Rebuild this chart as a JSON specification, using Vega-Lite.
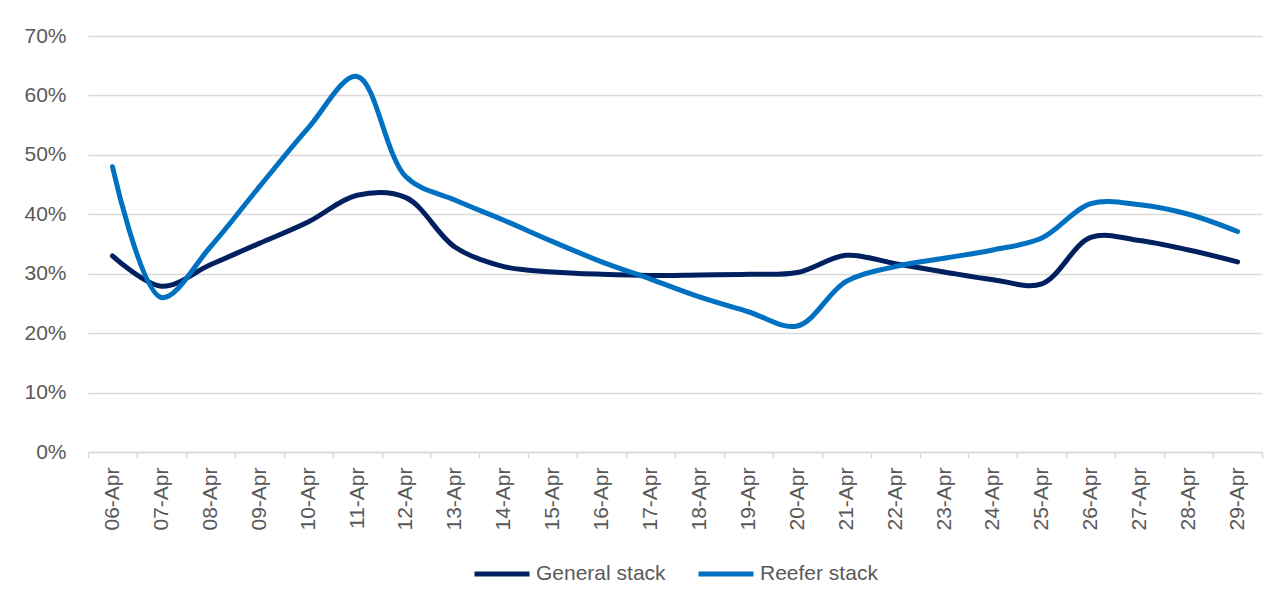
{
  "$schema": "https://vega.github.io/schema/vega-lite/v6.json",
  "autosize": {"type": "none"},
  "padding": {"left": 88, "top": 36, "right": 25, "bottom": 156},
  "width": 1174,
  "height": 416,
  "background": "#ffffff",
  "config": {
    "view": {"stroke": null},
    "font": "Liberation Sans",
    "axis": {
      "labelFont": "Liberation Sans",
      "labelFontSize": 21,
      "labelColor": "#595959",
      "gridColor": "#D9D9D9",
      "gridWidth": 1.5,
      "domainColor": "#D9D9D9",
      "domainWidth": 1.5,
      "tickColor": "#D9D9D9",
      "tickWidth": 1.5,
      "title": null
    },
    "legend": {
      "labelFont": "Liberation Sans",
      "labelFontSize": 21,
      "labelColor": "#595959",
      "layout": {"bottom": {"anchor": "middle"}}
    }
  },
  "data": {
    "values": [
      {"date": "06-Apr", "series": "General stack", "share": 0.330},
      {"date": "07-Apr", "series": "General stack", "share": 0.279},
      {"date": "08-Apr", "series": "General stack", "share": 0.315},
      {"date": "09-Apr", "series": "General stack", "share": 0.351},
      {"date": "10-Apr", "series": "General stack", "share": 0.387},
      {"date": "11-Apr", "series": "General stack", "share": 0.432},
      {"date": "12-Apr", "series": "General stack", "share": 0.428},
      {"date": "13-Apr", "series": "General stack", "share": 0.345},
      {"date": "14-Apr", "series": "General stack", "share": 0.312},
      {"date": "15-Apr", "series": "General stack", "share": 0.303},
      {"date": "16-Apr", "series": "General stack", "share": 0.299},
      {"date": "17-Apr", "series": "General stack", "share": 0.297},
      {"date": "18-Apr", "series": "General stack", "share": 0.298},
      {"date": "19-Apr", "series": "General stack", "share": 0.299},
      {"date": "20-Apr", "series": "General stack", "share": 0.302},
      {"date": "21-Apr", "series": "General stack", "share": 0.331},
      {"date": "22-Apr", "series": "General stack", "share": 0.317},
      {"date": "23-Apr", "series": "General stack", "share": 0.303},
      {"date": "24-Apr", "series": "General stack", "share": 0.290},
      {"date": "25-Apr", "series": "General stack", "share": 0.283},
      {"date": "26-Apr", "series": "General stack", "share": 0.361},
      {"date": "27-Apr", "series": "General stack", "share": 0.356},
      {"date": "28-Apr", "series": "General stack", "share": 0.340},
      {"date": "29-Apr", "series": "General stack", "share": 0.320},
      {"date": "06-Apr", "series": "Reefer stack", "share": 0.480},
      {"date": "07-Apr", "series": "Reefer stack", "share": 0.260},
      {"date": "08-Apr", "series": "Reefer stack", "share": 0.345},
      {"date": "09-Apr", "series": "Reefer stack", "share": 0.446},
      {"date": "10-Apr", "series": "Reefer stack", "share": 0.545},
      {"date": "11-Apr", "series": "Reefer stack", "share": 0.632},
      {"date": "12-Apr", "series": "Reefer stack", "share": 0.463},
      {"date": "13-Apr", "series": "Reefer stack", "share": 0.424},
      {"date": "14-Apr", "series": "Reefer stack", "share": 0.390},
      {"date": "15-Apr", "series": "Reefer stack", "share": 0.354},
      {"date": "16-Apr", "series": "Reefer stack", "share": 0.320},
      {"date": "17-Apr", "series": "Reefer stack", "share": 0.291},
      {"date": "18-Apr", "series": "Reefer stack", "share": 0.261},
      {"date": "19-Apr", "series": "Reefer stack", "share": 0.236},
      {"date": "20-Apr", "series": "Reefer stack", "share": 0.212},
      {"date": "21-Apr", "series": "Reefer stack", "share": 0.287},
      {"date": "22-Apr", "series": "Reefer stack", "share": 0.312},
      {"date": "23-Apr", "series": "Reefer stack", "share": 0.326},
      {"date": "24-Apr", "series": "Reefer stack", "share": 0.340},
      {"date": "25-Apr", "series": "Reefer stack", "share": 0.360},
      {"date": "26-Apr", "series": "Reefer stack", "share": 0.418},
      {"date": "27-Apr", "series": "Reefer stack", "share": 0.416},
      {"date": "28-Apr", "series": "Reefer stack", "share": 0.400},
      {"date": "29-Apr", "series": "Reefer stack", "share": 0.371}
    ]
  },
  "mark": {
    "type": "line",
    "interpolate": "catmull-rom",
    "strokeWidth": 5,
    "strokeCap": "round"
  },
  "encoding": {
    "x": {
      "field": "date",
      "type": "ordinal",
      "sort": null,
      "bandPosition": 0.5,
      "scale": {"type": "band", "paddingInner": 0, "paddingOuter": 0},
      "axis": {
        "labelAngle": -90,
        "labelPadding": 9,
        "tickSize": 6,
        "tickBand": "extent",
        "grid": false,
        "domain": true
      }
    },
    "y": {
      "field": "share",
      "type": "quantitative",
      "scale": {"domain": [0, 0.7], "nice": false},
      "axis": {
        "values": [0, 0.1, 0.2, 0.3, 0.4, 0.5, 0.6, 0.7],
        "format": ".0%",
        "domain": false,
        "ticks": false,
        "labelPadding": 22,
        "grid": true
      }
    },
    "color": {
      "field": "series",
      "type": "nominal",
      "scale": {"domain": ["General stack", "Reefer stack"], "range": ["#002060", "#0070C0"]},
      "legend": {
        "title": null,
        "orient": "bottom",
        "direction": "horizontal",
        "symbolType": "stroke",
        "symbolSize": 3025,
        "symbolStrokeWidth": 5,
        "labelOffset": 4,
        "columnPadding": 22,
        "offset": 13
      }
    }
  }
}
